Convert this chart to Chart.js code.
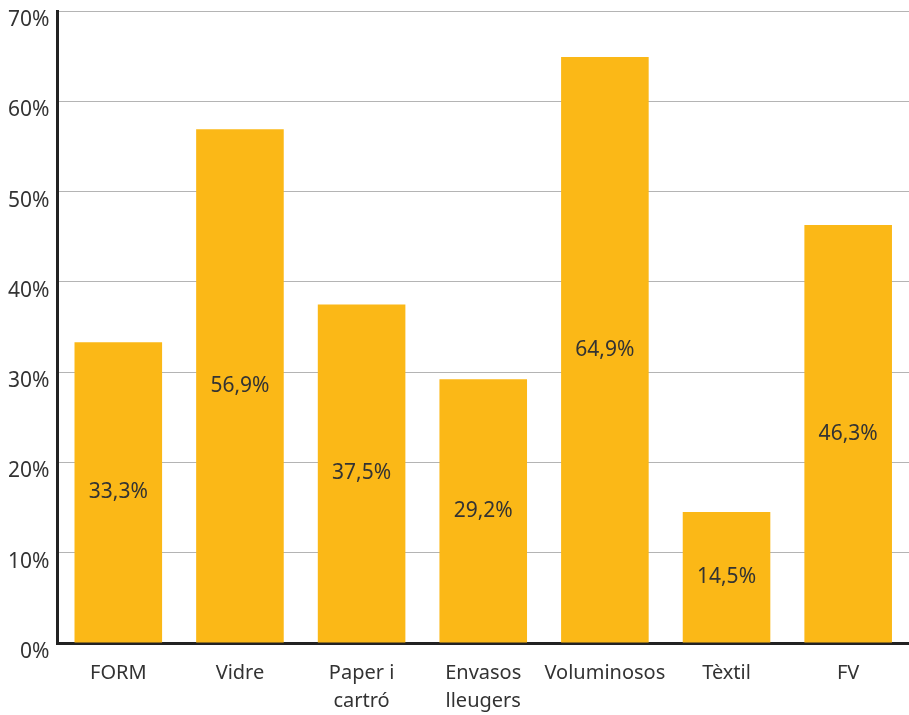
<!DOCTYPE html>
<html>
<head>
<meta charset="utf-8">
<script src="https://cdn.jsdelivr.net/npm/chart.js@4"></script>
<style>
  html, body { margin: 0; padding: 0; background: #fff; }
  #wrap { width: 909px; height: 715px; }
</style>
</head>
<body>
<div id="wrap"><canvas id="chart"></canvas></div>
<script>
// Chart data
const categories = ['FORM', 'Vidre', ['Paper i', 'cartró'], ['Envasos', 'lleugers'], 'Voluminosos', 'Tèxtil', 'FV'];
const values = [33.3, 56.9, 37.5, 29.2, 64.9, 14.5, 46.3];
const yTicks = [0, 10, 20, 30, 40, 50, 60, 70];

const barColor = '#FBB817';
const textColor = '#333333';
const fontFamily = '"Noto Sans", "Open Sans", sans-serif';

// Draw value labels in the middle of each bar
const midLabels = {
    id: 'midLabels',
    afterDatasetsDraw(chart) {
        const ctx = chart.ctx;
        const meta = chart.getDatasetMeta(0);
        ctx.save();
        ctx.font = '21px ' + fontFamily;
        ctx.fillStyle = textColor;
        ctx.textAlign = 'center';
        ctx.textBaseline = 'middle';
        meta.data.forEach((bar, i) => {
            const label = values[i].toFixed(1).replace('.', ',') + '%';
            ctx.fillText(label, bar.x, (bar.y + bar.base) / 2);
        });
        ctx.restore();
    }
};

new Chart(document.getElementById('chart'), {
    type: 'bar',
    data: {
        labels: categories,
        datasets: [{
            data: values,
            backgroundColor: barColor,
            barPercentage: 0.72,
            categoryPercentage: 1
        }]
    },
    options: {
        responsive: true,
        maintainAspectRatio: false,
        animation: false,
        layout: { padding: { top: 11, right: 0, left: 0, bottom: 0 } },
        plugins: {
            legend: { display: false },
            tooltip: { enabled: false }
        },
        scales: {
            x: {
                grid: { display: false, drawTicks: false },
                border: { color: '#222', width: 3 },
                afterFit: (axis) => { axis.height = 72; },
                ticks: {
                    color: textColor,
                    font: { size: 20, family: fontFamily, lineHeight: 1.4 },
                    padding: 16,
                    maxRotation: 0,
                    autoSkip: false
                }
            },
            y: {
                min: 0,
                max: 70,
                afterBuildTicks: (axis) => { axis.ticks = yTicks.map(v => ({ value: v })); },
                afterFit: (axis) => { axis.paddingTop = 0; axis.paddingBottom = 0; },
                grid: { color: '#b4b4b4', lineWidth: 1, drawTicks: false },
                border: { color: '#222', width: 3 },
                ticks: {
                    color: textColor,
                    font: { size: 21, family: fontFamily },
                    padding: 8,
                    labelOffset: 9,
                    callback: v => v + '%'
                }
            }
        }
    },
    plugins: [midLabels]
});
</script>
</body>
</html>
